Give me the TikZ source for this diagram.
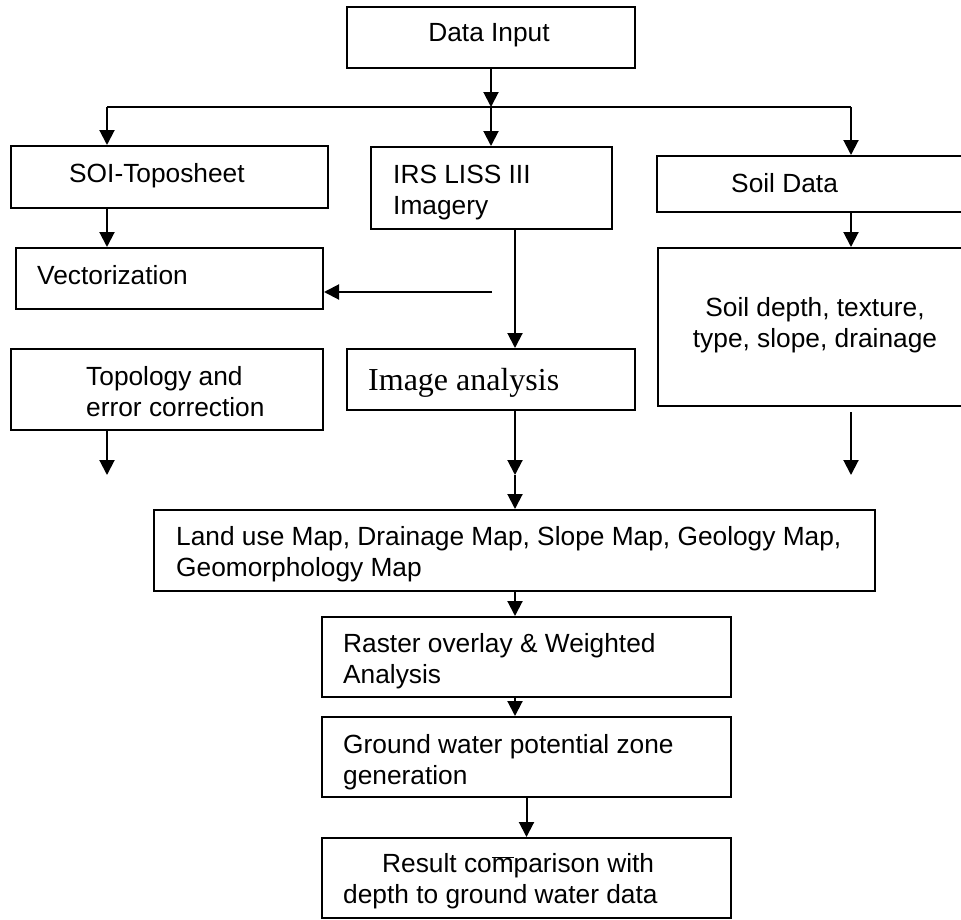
\documentclass[tikz,border=0pt]{standalone}
\usepackage{fontspec}
\setmainfont{Liberation Sans}
\newfontfamily\timesfont{Liberation Serif}
\usetikzlibrary{arrows.meta}

\tikzset{
  pbox/.style = {draw, line width = 2pt, rectangle, inner sep = 0pt},
  txt/.style = {inner sep = 0pt, align = left, font = \fontsize{26.3}{30.5}\selectfont},
  flow/.style = {-{Triangle[length = 15pt, width = 15pt]}, line width = 2pt}
}

\begin{document}
\begin{tikzpicture}[x = 1pt, y = -1pt]
    \useasboundingbox (0,0) rectangle (961,919);
    % boxes
    \node [pbox, minimum width = 288pt, minimum height = 61pt] (input) at (491,37.5) {};
    \node [pbox, minimum width = 317pt, minimum height = 62pt] (soi) at (169.5,177) {};
    \node [pbox, minimum width = 241pt, minimum height = 82pt] (irs) at (491.5,188) {};
    \node [pbox, minimum width = 343pt, minimum height = 56pt] (soil) at (828.5,184) {};
    \node [pbox, minimum width = 307pt, minimum height = 61pt] (vect) at (169.5,278.5) {};
    \node [pbox, minimum width = 324pt, minimum height = 158pt] (depth) at (820,327) {};
    \node [pbox, minimum width = 312pt, minimum height = 81pt] (topo) at (167,389.5) {};
    \node [pbox, minimum width = 288pt, minimum height = 61pt] (image) at (491,379.5) {};
    \node [pbox, minimum width = 721pt, minimum height = 81pt] (maps) at (514.5,550.5) {};
    \node [pbox, minimum width = 409pt, minimum height = 80pt] (raster) at (526.5,657) {};
    \node [pbox, minimum width = 409pt, minimum height = 80pt] (zone) at (526.5,757) {};
    \node [pbox, minimum width = 409pt, minimum height = 80pt] (result) at (526.5,878) {};
    % texts (base = last line)
    \node [txt, anchor = base] (inputT) at (489,41) {Data Input};
    \node [txt, anchor = base west] (soiT) at (69,182) {SOI-Toposheet};
    \node [txt, anchor = base west] (irsT) at (393,214) {IRS LISS III\\Imagery};
    \node [txt, anchor = base west] (soilT) at (731,192) {Soil Data};
    \node [txt, anchor = base west] (vectT) at (37,284) {Vectorization};
    \node [txt, anchor = base, align = center] (depthT) at (815,347)
          {Soil depth, texture,\\type, slope, drainage};
    \node [txt, anchor = base west] (topoT) at (86,416) {Topology and\\error correction};
    \node [txt, anchor = base west, font = \timesfont\fontsize{32}{36}\selectfont]
          (imageT) at (368,390) {Image analysis};
    \node [txt, anchor = base west] (mapsT) at (176,576)
          {Land use Map, Drainage Map, Slope Map, Geology Map,\\Geomorphology Map};
    \node [txt, anchor = base west] (rasterT) at (343,683) {Raster overlay \& Weighted\\Analysis};
    \node [txt, anchor = base west] (zoneT) at (343,784) {Ground water potential zone\\generation};
    \node [txt, anchor = base west] (resultT) at (343,903)
          {\hspace*{39pt}Result co$\overline{\mbox{m}}$parison with\\depth to ground water data};

    \coordinate (junc) at (491,107);
    \coordinate (left) at (107,107);
    \coordinate (right) at (851,107);
    \coordinate (mid) at (515,475);
    \coordinate (outL) at (107,475);
    \coordinate (outR) at (851,475);
    \coordinate (depthout) at (851,412);
    \coordinate (imgout) at (492,292);

    \draw [flow] (input.south) -- (junc);
    \draw [line width = 1.8pt] (left) -- (right);
    \draw [flow] (junc) -- (junc |- irs.north);
    \draw [flow] (left) -- (left |- soi.north);
    \draw [flow] (right) -- (right |- soil.north);
    \draw [flow] (left |- soi.south) -- (left |- vect.north);
    \draw [flow] (imgout) -- (imgout -| vect.east);
    \draw [flow] (mid |- irs.south) -- (mid |- image.north);
    \draw [flow] (right |- soil.south) -- (right |- depth.north);
    \draw [flow] (outL |- topo.south) -- (outL);
    \draw [flow] (mid |- image.south) -- (mid);
    \draw [flow] (depthout) -- (outR);
    \draw [flow] (mid) -- (mid |- maps.north);
    \draw [flow] (mid |- maps.south) -- (mid |- raster.north);
    \draw [flow] (mid |- raster.south) -- (mid |- zone.north);
    \draw [flow] (zone.south) -- (result.north);
\end{tikzpicture}
\end{document}
